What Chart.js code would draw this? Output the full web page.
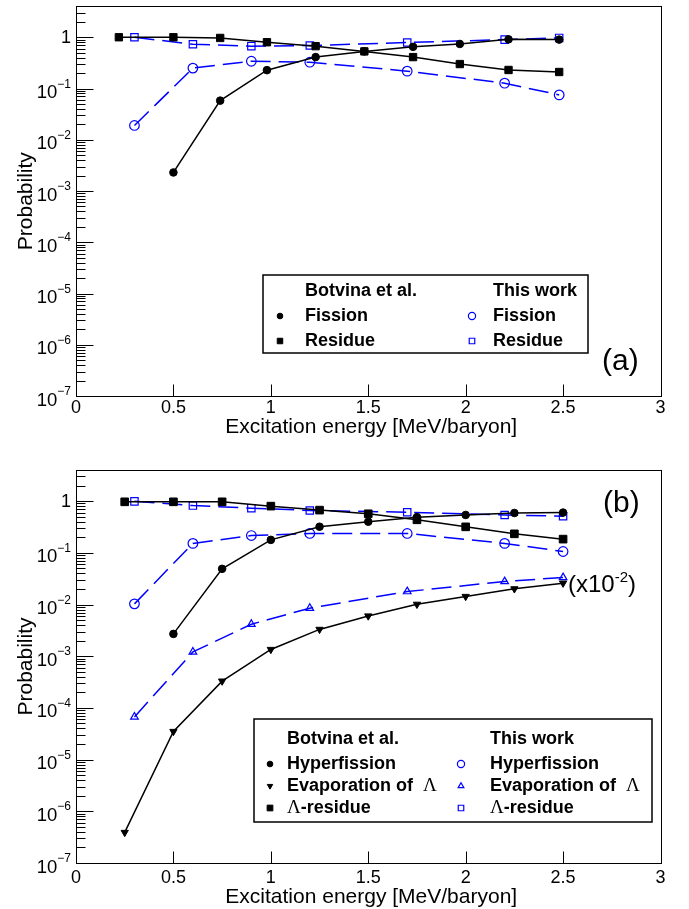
<!DOCTYPE html>
<html>
<head>
<meta charset="utf-8">
<script src="https://cdn.jsdelivr.net/npm/chart.js@4.4.1/dist/chart.umd.min.js"></script>
<style>
  html, body { margin: 0; padding: 0; background: #fff; }
  #wrap { position: relative; width: 689px; height: 909px; }
  canvas { position: absolute; left: 0; }
  #chartA { top: 0; }
  #chartB { top: 455px; }
</style>
</head>
<body>
<div id="wrap">
  <canvas id="chartA" width="689" height="455"></canvas>
  <canvas id="chartB" width="689" height="454"></canvas>
</div>
<script>
// ---- panel (a) ----
const botvinaXA = [0.22, 0.5, 0.74, 0.98, 1.23, 1.48, 1.73, 1.97, 2.22, 2.48];
const botvinaResidueA = [1.0, 1.0, 0.97, 0.80, 0.67, 0.53, 0.41, 0.30, 0.23, 0.21];
const botvinaFissionXA = [0.5, 0.74, 0.98, 1.23, 1.48, 1.73, 1.97, 2.22, 2.48];
const botvinaFissionA = [0.0023, 0.058, 0.228, 0.41, 0.53, 0.65, 0.74, 0.91, 0.90];
const thisWorkXA = [0.3, 0.6, 0.9, 1.2, 1.7, 2.2, 2.48];
const thisResidueA = [1.0, 0.73, 0.67, 0.69, 0.79, 0.90, 0.97];
const thisFissionA = [0.019, 0.25, 0.34, 0.326, 0.218, 0.127, 0.075];

// ---- panel (b) ----
const botvinaXB = [0.25, 0.5, 0.75, 1.0, 1.25, 1.5, 1.75, 2.0, 2.25, 2.5];
const botvinaResidueB = [0.97, 0.97, 0.97, 0.80, 0.67, 0.57, 0.435, 0.318, 0.233, 0.184];
const botvinaHyperXB = [0.5, 0.75, 1.0, 1.25, 1.5, 1.75, 2.0, 2.25, 2.5];
const botvinaHyperB = [0.0027, 0.049, 0.178, 0.32, 0.40, 0.49, 0.54, 0.59, 0.60];
const botvinaEvapB = [3.9e-7, 3.5e-5, 3.3e-4, 1.35e-3, 3.3e-3, 6.0e-3, 0.0101, 0.0143, 0.0201, 0.0259];
const thisWorkXB = [0.3, 0.6, 0.9, 1.2, 1.7, 2.2, 2.5];
const thisResidueB = [0.99, 0.82, 0.73, 0.66, 0.61, 0.54, 0.51];
const thisHyperB = [0.0103, 0.152, 0.216, 0.237, 0.237, 0.152, 0.106];
const thisEvapB = [6.7e-5, 1.21e-3, 4.16e-3, 8.5e-3, 0.0178, 0.0279, 0.0333];

// axes
const xTicks = [0, 0.5, 1, 1.5, 2, 2.5, 3];
const xTickLabels = ['0', '0.5', '1', '1.5', '2', '2.5', '3'];
const yExponents = [-7, -6, -5, -4, -3, -2, -1, 0];
const xTitle = 'Excitation energy [MeV/baryon]';
const yTitle = 'Probability';

const SANS = '"Liberation Sans", Arial, Helvetica, sans-serif';
const SERIF = '"Liberation Serif", "Times New Roman", serif';
const BLUE = '#0000ff';

function pts(xs, ys) {
  return xs.map((x, i) => ({ x: x, y: ys[i] }));
}

function botvina(xs, ys, style, r, rot) {
  return {
    data: pts(xs, ys),
    borderColor: '#000', borderWidth: 1.5,
    pointStyle: style, pointRadius: r, pointRotation: rot || 0,
    pointBackgroundColor: '#000', pointBorderColor: '#000', pointBorderWidth: 1,
    tension: 0, showLine: true
  };
}

function thisWork(xs, ys, style, r) {
  return {
    data: pts(xs, ys),
    borderColor: BLUE, borderWidth: 1.5, borderDash: [20, 8],
    pointStyle: style, pointRadius: r,
    pointBackgroundColor: 'rgba(0,0,0,0)', pointBorderColor: BLUE, pointBorderWidth: 1.2,
    tension: 0, showLine: true
  };
}

function drawPow(ctx, e, xr, y) {
  ctx.fillStyle = '#000';
  if (e === 0) {
    ctx.font = '18px ' + SANS;
    ctx.textAlign = 'right';
    ctx.textBaseline = 'middle';
    ctx.fillText('1', xr, y + 1);
    return;
  }
  const sup = '\u2212' + (-e);
  ctx.font = '12px ' + SANS;
  const w2 = ctx.measureText(sup).width;
  ctx.textAlign = 'left';
  ctx.textBaseline = 'alphabetic';
  ctx.fillText(sup, xr - w2, y - 1);
  ctx.font = '18.5px ' + SANS;
  const w1 = ctx.measureText('10').width;
  ctx.fillText('10', xr - w2 - w1, y + 9.5);
}

function drawMixed(ctx, text, x, y) {
  let cx = x;
  for (const ch of text.split(/(\u039b)/)) {
    if (!ch) continue;
    ctx.font = ch === '\u039b' ? '19px ' + SERIF : 'bold 18px ' + SANS;
    ctx.fillText(ch, cx, y);
    cx += ctx.measureText(ch).width;
  }
}

const panelPlugin = {
  id: 'panel',
  afterDraw(chart, args, opts) {
    const ctx = chart.ctx;
    const a = chart.chartArea;
    const xs = chart.scales.x, ys = chart.scales.y;
    ctx.save();
    ctx.strokeStyle = '#000';
    ctx.lineWidth = 1;
    // frame
    ctx.strokeRect(Math.round(a.left) + 0.5, Math.round(a.top) + 0.5,
      Math.round(a.right - a.left), Math.round(a.bottom - a.top));

    // y ticks (inside)
    const L = Math.round(a.left) + 0.5;
    ctx.beginPath();
    for (const e of yExponents) {
      const base = Math.pow(10, e);
      const yp = Math.round(ys.getPixelForValue(base)) + 0.5;
      ctx.moveTo(L, yp); ctx.lineTo(L + 17, yp);
      for (let m = 2; m <= 9; m++) {
        const v = m * base;
        if (v >= ys.max) break;
        const ym = Math.round(ys.getPixelForValue(v)) + 0.5;
        ctx.moveTo(L, ym); ctx.lineTo(L + 9, ym);
      }
    }
    // x ticks (inside)
    const B = Math.round(a.bottom) + 0.5;
    for (const v of xTicks) {
      const xp = Math.round(xs.getPixelForValue(v)) + 0.5;
      ctx.moveTo(xp, B); ctx.lineTo(xp, B - 12);
    }
    ctx.stroke();

    // tick labels
    for (const e of yExponents) {
      drawPow(ctx, e, a.left - 5, ys.getPixelForValue(Math.pow(10, e)));
    }
    ctx.font = '18px ' + SANS;
    ctx.textAlign = 'center';
    ctx.textBaseline = 'alphabetic';
    xTicks.forEach((v, i) => ctx.fillText(xTickLabels[i], xs.getPixelForValue(v), a.bottom + opts.labelOff));

    // titles
    ctx.font = '21px ' + SANS;
    ctx.fillText(xTitle, (a.left + a.right) / 2 + 3, a.bottom + opts.titleOff);
    ctx.save();
    ctx.translate(32, (a.top + a.bottom) / 2);
    ctx.rotate(-Math.PI / 2);
    ctx.fillText(yTitle, 0, 0);
    ctx.restore();

    // panel tag
    ctx.font = '30px ' + SANS;
    ctx.textAlign = 'left';
    ctx.fillText(opts.tag, opts.tagX, opts.tagY);
    if (opts.note) {
      ctx.font = '24px ' + SANS;
      let nx = opts.note.x;
      ctx.fillText('(x10', nx, opts.note.y);
      nx += ctx.measureText('(x10').width;
      ctx.font = '15px ' + SANS;
      ctx.fillText('-2', nx, opts.note.y - 10);
      nx += ctx.measureText('-2').width;
      ctx.font = '24px ' + SANS;
      ctx.fillText(')', nx, opts.note.y);
    }

    // legend
    const lg = opts.legend;
    ctx.fillStyle = '#fff';
    ctx.fillRect(lg.x0, lg.y0, lg.x1 - lg.x0, lg.y1 - lg.y0);
    ctx.lineWidth = 1.5;
    ctx.strokeStyle = '#000';
    ctx.strokeRect(lg.x0, lg.y0, lg.x1 - lg.x0, lg.y1 - lg.y0);
    ctx.fillStyle = '#000';
    ctx.textBaseline = 'middle';
    ctx.textAlign = 'left';
    drawMixed(ctx, 'Botvina et al.', lg.textX[0], lg.rows[0]);
    drawMixed(ctx, 'This work', lg.textX[1], lg.rows[0]);
    lg.items.forEach((it, i) => {
      const y = lg.rows[i + 1];
      ctx.fillStyle = '#000';
      drawMixed(ctx, it.label, lg.textX[0], y);
      drawMixed(ctx, it.label, lg.textX[1], y);
      // markers taken from the datasets
      [it.black, it.blue].forEach((di, col) => {
        const ds = chart.data.datasets[di];
        ctx.save();
        ctx.setLineDash([]);
        ctx.fillStyle = ds.pointBackgroundColor;
        ctx.strokeStyle = ds.pointBorderColor;
        ctx.lineWidth = ds.pointBorderWidth;
        Chart.helpers.drawPoint(ctx, {
          pointStyle: ds.pointStyle,
          rotation: ds.pointRotation || 0,
          radius: ds.pointRadius * 0.75,
          borderWidth: ds.pointBorderWidth
        }, lg.markX[col], y);
        ctx.restore();
      });
    });
    ctx.restore();
  }
};

function makeChart(id, datasets, pad, panelOpts) {
  return new Chart(document.getElementById(id), {
    type: 'line',
    data: { datasets: datasets },
    options: {
      responsive: false,
      animation: false,
      devicePixelRatio: 1,
      layout: { padding: pad },
      plugins: {
        legend: { display: false },
        tooltip: { enabled: false },
        panel: panelOpts
      },
      scales: {
        x: { type: 'linear', min: 0, max: 3, display: false },
        y: { type: 'logarithmic', min: 1e-7, max: 4, display: false }
      }
    },
    plugins: [panelPlugin]
  });
}

makeChart('chartA', [
  botvina(botvinaXA, botvinaResidueA, 'rect', 5.2),
  botvina(botvinaFissionXA, botvinaFissionA, 'circle', 3.8),
  thisWork(thisWorkXA, thisResidueA, 'rect', 5.2),
  thisWork(thisWorkXA, thisFissionA, 'circle', 4.8)
], { left: 76, right: 28.5, top: 3, bottom: 59 }, {
  tag: '(a)', tagX: 602, tagY: 370, labelOff: 17, titleOff: 37,
  legend: {
    x0: 263, y0: 275, x1: 588, y1: 353,
    rows: [291, 316, 341],
    textX: [305, 493], markX: [280, 472],
    items: [
      { label: 'Fission', black: 1, blue: 3 },
      { label: 'Residue', black: 0, blue: 2 }
    ]
  }
});

makeChart('chartB', [
  botvina(botvinaXB, botvinaResidueB, 'rect', 5.4),
  botvina(botvinaHyperXB, botvinaHyperB, 'circle', 3.8),
  botvina(botvinaXB, botvinaEvapB, 'triangle', 4.2, 180),
  thisWork(thisWorkXB, thisResidueB, 'rect', 5.2),
  thisWork(thisWorkXB, thisHyperB, 'circle', 4.8),
  thisWork(thisWorkXB, thisEvapB, 'triangle', 4.4)
], { left: 76, right: 28.5, top: 15, bottom: 46 }, {
  tag: '(b)', tagX: 603, tagY: 57, labelOff: 20, titleOff: 40,
  note: { x: 568, y: 137 },
  legend: {
    x0: 254, y0: 264, x1: 652, y1: 367,
    rows: [284, 309, 331, 353],
    textX: [287, 490], markX: [270, 461],
    items: [
      { label: 'Hyperfission', black: 1, blue: 4 },
      { label: 'Evaporation of  \u039b', black: 2, blue: 5 },
      { label: '\u039b-residue', black: 0, blue: 3 }
    ]
  }
});
</script>
</body>
</html>
